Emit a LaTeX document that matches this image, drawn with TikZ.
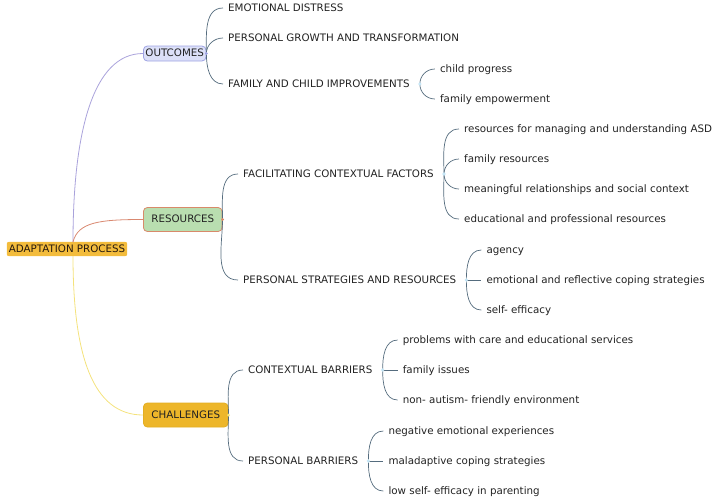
\documentclass[tikz,border=0pt]{standalone}
\usepackage{fontspec}
\setmainfont{DejaVu Sans}
\usetikzlibrary{positioning}

\definecolor{inkc}{HTML}{222222}
\definecolor{rootfill}{HTML}{F3BC3C}
\definecolor{outfill}{HTML}{DCE0F8}
\definecolor{outdraw}{HTML}{9EA3E3}
\definecolor{resfill}{HTML}{B9DEB0}
\definecolor{resdraw}{HTML}{D88A6A}
\definecolor{chalfill}{HTML}{EDB62A}
\definecolor{chaldraw}{HTML}{E3AE22}
\definecolor{purpc}{HTML}{A9A2DB}
\definecolor{orngc}{HTML}{D98870}
\definecolor{yellc}{HTML}{F4E27C}
\definecolor{slate}{HTML}{556C7E}
\definecolor{knotc}{HTML}{C6E6F6}

\begin{document}
\begin{tikzpicture}[
  x=1pt, y=1pt,
  topic/.style={anchor=west, inner xsep=5pt, inner ysep=1pt,
                text height=1.6ex, text depth=.45ex,
                font=\fontsize{10.3}{12}\selectfont, text=inkc},
  mainbox/.style={topic, rounded corners=4pt, line width=0.8pt,
                  inner xsep=8pt, minimum height=24pt},
  rootbox/.style={topic, anchor=center, fill=rootfill, rounded corners=2pt,
                  inner xsep=2pt, inner ysep=1.5pt, text=black!80!brown},
  limb/.style={line width=0.8pt},
  twig/.style={draw=slate, line width=0.7pt},
]
\useasboundingbox (0,0) rectangle (720,-501);

% root and main branches
\node[rootbox] (root) at (67,-249) {ADAPTATION PROCESS};
\coordinate (stem) at (73,-242);
\coordinate (foot) at (73,-256);

\node[mainbox, fill=outfill, draw=outdraw, inner xsep=2pt, minimum height=15pt] (outcomes) at (143,-53.5) {OUTCOMES};
\node[mainbox, fill=resfill, draw=resdraw] (resources) at (143,-219.5) {RESOURCES};
\node[mainbox, fill=chalfill, draw=chaldraw] (challenges) at (143,-415) {CHALLENGES};

\draw[limb, purpc] (stem) to[out=90, in=180, out distance=110pt, in distance=50pt] (outcomes.west);
\draw[limb, orngc] (stem) .. controls (78,-222) and (100,-219.5) .. (resources.west);
\draw[limb, yellc] (foot) to[out=-90, in=180, out distance=100pt, in distance=50pt] (challenges.west);

% outcomes
\node[topic] (distress) at (223,-8) {EMOTIONAL DISTRESS};
\node[topic] (growth) at (223,-38) {PERSONAL GROWTH AND TRANSFORMATION};
\node[topic] (improve) at (223,-84) {FAMILY AND CHILD IMPROVEMENTS};
\draw[twig] (outcomes.east) to[out=90, in=180] (distress.west);
\draw[twig] (outcomes.east) to[out=90, in=180] (growth.west);
\draw[twig] (outcomes.east) to[out=-90, in=180] (improve.west);

\coordinate (improve-j) at ([xshift=5pt]improve.east);
\node[topic] (progress) at ([shift={(15,15)}]improve-j) {child progress};
\node[topic] (empower) at ([shift={(15,-15)}]improve-j) {family empowerment};
\draw[twig] (improve-j) to[out=90, in=180] (progress.west);
\draw[twig] (improve-j) to[out=-90, in=180] (empower.west);

% resources
\node[topic] (facil) at (238,-174) {FACILITATING CONTEXTUAL FACTORS};
\node[topic] (strat) at (238,-280) {PERSONAL STRATEGIES AND RESOURCES};
\draw[twig] (resources.east) to[out=90, in=180] (facil.west);
\draw[twig] (resources.east) to[out=-90, in=180] (strat.west);

\coordinate (facil-j) at ([xshift=5pt]facil.east);
\node[topic] (asd) at ([shift={(15,45)}]facil-j) {resources for managing and understanding ASD};
\node[topic] (famres) at ([shift={(15,15)}]facil-j) {family resources};
\node[topic] (meaning) at ([shift={(15,-15)}]facil-j) {meaningful relationships and social context};
\node[topic] (educ) at ([shift={(15,-45)}]facil-j) {educational and professional resources};
\draw[twig] (facil-j) to[out=90, in=180] (asd.west);
\draw[twig] (facil-j) to[out=90, in=180] (famres.west);
\draw[twig] (facil-j) to[out=-90, in=180] (meaning.west);
\draw[twig] (facil-j) to[out=-90, in=180] (educ.west);

\coordinate (strat-j) at ([xshift=5pt]strat.east);
\node[topic] (agency) at ([shift={(15,30)}]strat-j) {agency};
\node[topic] (coping) at ([shift={(15,0)}]strat-j) {emotional and reflective coping strategies};
\node[topic] (selfeff) at ([shift={(15,-30)}]strat-j) {self- efficacy};
\draw[twig] (strat-j) to[out=90, in=180] (agency.west);
\draw[twig] (strat-j) -- (coping.west);
\draw[twig] (strat-j) to[out=-90, in=180] (selfeff.west);

% challenges
\node[topic] (ctxbar) at (243,-370) {CONTEXTUAL BARRIERS};
\node[topic] (persbar) at (243,-461) {PERSONAL BARRIERS};
\draw[twig] (challenges.east) to[out=90, in=180] (ctxbar.west);
\draw[twig] (challenges.east) to[out=-90, in=180] (persbar.west);

\coordinate (ctxbar-j) at ([xshift=5pt]ctxbar.east);
\node[topic] (care) at ([shift={(15,30)}]ctxbar-j) {problems with care and educational services};
\node[topic] (famiss) at ([shift={(15,0)}]ctxbar-j) {family issues};
\node[topic] (envir) at ([shift={(15,-30)}]ctxbar-j) {non- autism- friendly environment};
\draw[twig] (ctxbar-j) to[out=90, in=180] (care.west);
\draw[twig] (ctxbar-j) -- (famiss.west);
\draw[twig] (ctxbar-j) to[out=-90, in=180] (envir.west);

\coordinate (persbar-j) at ([xshift=5pt]persbar.east);
\node[topic] (negexp) at ([shift={(15,30)}]persbar-j) {negative emotional experiences};
\node[topic] (maladapt) at ([shift={(15,0)}]persbar-j) {maladaptive coping strategies};
\node[topic] (lowself) at ([shift={(15,-30)}]persbar-j) {low self- efficacy in parenting};
\draw[twig] (persbar-j) to[out=90, in=180] (negexp.west);
\draw[twig] (persbar-j) -- (maladapt.west);
\draw[twig] (persbar-j) to[out=-90, in=180] (lowself.west);

% junction dots
\foreach \j in {improve-j, facil-j, strat-j, ctxbar-j, persbar-j}
  \fill[knotc] (\j) circle (1.8pt);
\fill[outdraw] (outcomes.east) circle (1.5pt);
\fill[resdraw] (resources.east) circle (1.5pt);
\fill[yellc] (challenges.east) circle (1.5pt);
\end{tikzpicture}
\end{document}
